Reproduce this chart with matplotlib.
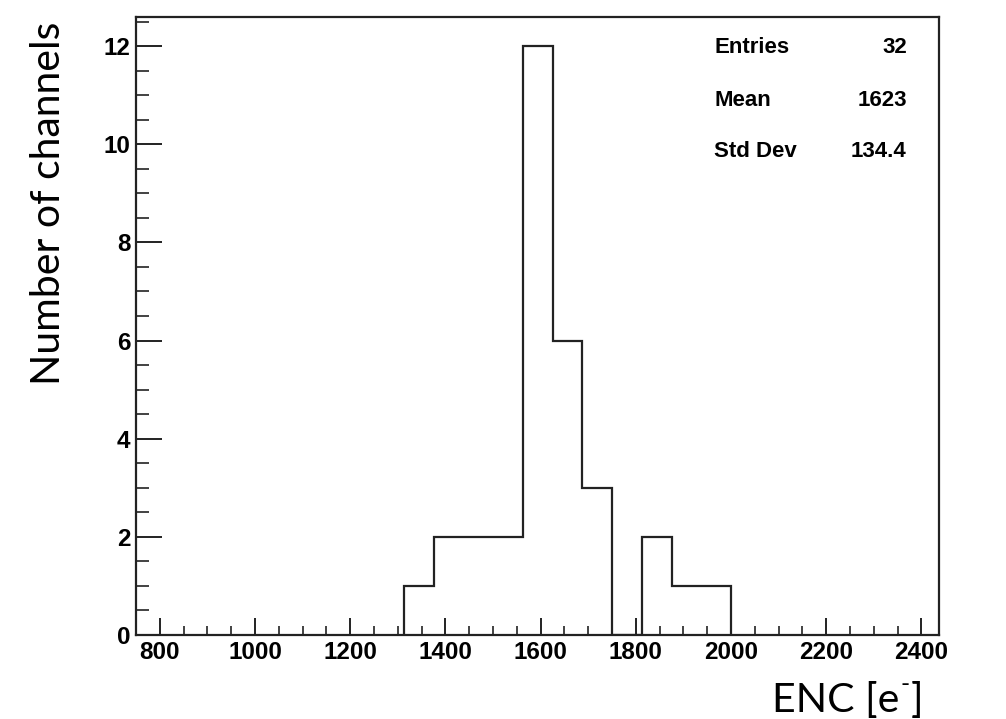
import matplotlib
matplotlib.use("Agg")
import matplotlib.pyplot as plt
from matplotlib.ticker import MultipleLocator

# Data (histogram)
bin_edges = [1312.5, 1375, 1437.5, 1500, 1562.5, 1625, 1687.5, 1750, 1812.5, 1875, 1937.5, 2000]
counts = [1, 2, 2, 2, 12, 6, 3, 0, 2, 1, 1]
x_range = (750, 2437.5)
y_max = 12.6
stats_names = ["Entries", "Mean", "Std Dev"]
stats_values = ["32", "1623", "134.4"]
xlabel_main = "ENC [e"
xlabel_sup = "-"
xlabel_end = "]"
ylabel = "Number of channels"

fig = plt.figure(figsize=(10.06, 7.19), dpi=100)
ax = fig.add_axes([0.1352, 0.1168, 0.9337 - 0.1352, 0.9768 - 0.1168])

ax.stairs(counts, bin_edges, baseline=0, color='#222222', linewidth=1.6)

ax.set_xlim(*x_range)
ax.set_ylim(0, y_max)

ax.xaxis.set_major_locator(MultipleLocator(200))
ax.xaxis.set_minor_locator(MultipleLocator(50))
ax.yaxis.set_major_locator(MultipleLocator(2))
ax.yaxis.set_minor_locator(MultipleLocator(0.5))

ax.tick_params(axis='x', which='major', direction='in', length=12.5, width=1.4, pad=4, color='#222222')
ax.tick_params(axis='x', which='minor', direction='in', length=6.5, width=1.2, color='#222222')
ax.tick_params(axis='y', which='major', direction='in', length=18.5, width=1.4, pad=4, color='#222222')
ax.tick_params(axis='y', which='minor', direction='in', length=9.6, width=1.2, color='#222222')
for lab in ax.get_xticklabels() + ax.get_yticklabels():
    lab.set_fontfamily('Liberation Sans')
    lab.set_fontweight('bold')
    lab.set_fontsize(17.5)

for sp in ax.spines.values():
    sp.set_linewidth(1.6)
    sp.set_color('#222222')

# Stats box text
ys = [47.7, 100, 151.7]
for name, val, yp in zip(stats_names, stats_values, ys):
    fig.text(714 / 1006, 1 - yp / 719, name, ha='left', va='center',
             family='Liberation Sans', weight='bold', size=16)
    fig.text(906.7 / 1006, 1 - yp / 719, val, ha='right', va='center',
             family='Liberation Sans', weight='bold', size=16)

# Axis labels
fs = 29.5
fig.text(60 / 1006, 1 - 203 / 719, ylabel, rotation=90, rotation_mode='anchor',
         ha='center', va='baseline', family='Lato', size=fs)

renderer = fig.canvas.get_renderer()
x0 = 771.7 / 1006
yb = 1 - 711.7 / 719
t1 = fig.text(x0, yb, xlabel_main, ha='left', va='baseline', family='Lato', size=fs)
bb = t1.get_window_extent(renderer)
x1 = bb.x1 / fig.bbox.width
t2 = fig.text(x1 + 1 / 1006, yb + 20 / 719, xlabel_sup, ha='left', va='baseline',
              family='Lato', size=fs * 0.6)
bb2 = t2.get_window_extent(renderer)
x2 = bb2.x1 / fig.bbox.width
fig.text(x2 + 1 / 1006, yb, xlabel_end, ha='left', va='baseline', family='Lato', size=fs)

fig.savefig('out.png', dpi=100)
